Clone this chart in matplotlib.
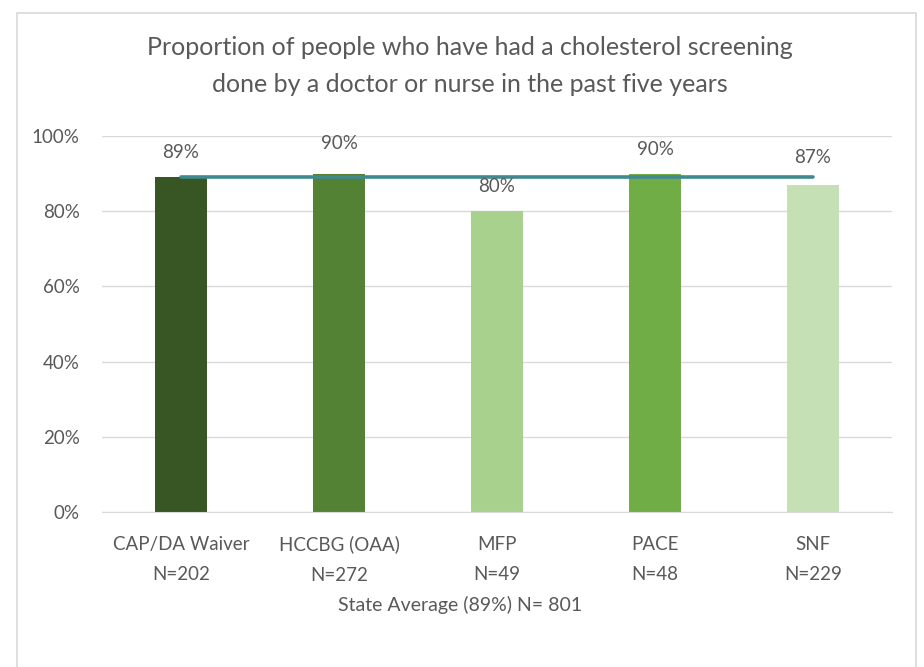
import matplotlib.pyplot as plt
import matplotlib.patches as patches
import numpy as np

# Data
programs = ["CAP/DA Waiver", "HCCBG (OAA)", "MFP", "PACE", "SNF"]
sample_sizes = [202, 272, 49, 48, 229]
proportions = [0.89, 0.90, 0.80, 0.90, 0.87]
state_average = 0.89
state_n = 801

bar_colors = ["#375623", "#548235", "#A9D18E", "#70AD47", "#C5E0B4"]
line_color = "#3E8A8E"
text_color = "#595959"

plt.rcParams['font.family'] = ['Lato', 'DejaVu Sans']

fig = plt.figure(figsize=(9.24, 6.67), dpi=100)
fig.patch.set_facecolor("white")

# chart border
fig.patches.append(patches.Rectangle((17 / 924, -0.01), (916 - 17) / 924, (661 - 0) / 667,
                                     transform=fig.transFigure, fill=False,
                                     edgecolor="#D9D9D9", linewidth=1.2))

ax = fig.add_axes([102 / 924, (667 - 512) / 667, (892 - 102) / 924, (512 - 136) / 667])
x = np.arange(len(programs))
ax.bar(x, proportions, width=0.33, color=bar_colors, zorder=2)
ax.plot([x[0], x[-1]], [state_average, state_average], color=line_color,
        linewidth=2.6, zorder=3, solid_capstyle="round")

# label offsets above bars (Excel placed them a bit unevenly)
label_offsets = [0.066, 0.08, 0.066, 0.065, 0.072]
for xi, v, off in zip(x, proportions, label_offsets):
    ax.text(xi, v + off, f"{v:.0%}", ha="center", va="center",
            fontsize=13.5, color=text_color, zorder=4)

ax.set_xlim(-0.5, len(programs) - 0.5)
ax.set_ylim(0, 1)
ax.set_yticks(np.arange(0, 1.01, 0.2))
ax.set_yticklabels([f"{int(round(t * 100))}%" for t in np.arange(0, 1.01, 0.2)])
ax.set_xticks(x)
ax.set_xticklabels([f"{p}\nN={n}" for p, n in zip(programs, sample_sizes)],
                   linespacing=1.95)
ax.tick_params(axis="both", length=0, colors=text_color, labelsize=13.5)
ax.tick_params(axis="x", pad=17)
ax.tick_params(axis="y", pad=16)
ax.grid(axis="y", color="#D9D9D9", linewidth=1, zorder=0)
for side in ["top", "right", "left"]:
    ax.spines[side].set_visible(False)
ax.spines["bottom"].set_color("#D9D9D9")

fig.text(460 / 924, 1 - 605 / 667, f"State Average ({state_average:.0%}) N= {state_n}",
         ha="center", va="center", fontsize=14, color=text_color)

fig.text(470 / 924, 1 - 66 / 667,
         "Proportion of people who have had a cholesterol screening\ndone by a doctor or nurse in the past five years",
         ha="center", va="center", fontsize=18, color=text_color, linespacing=1.75)

fig.savefig("out.png", dpi=100)
